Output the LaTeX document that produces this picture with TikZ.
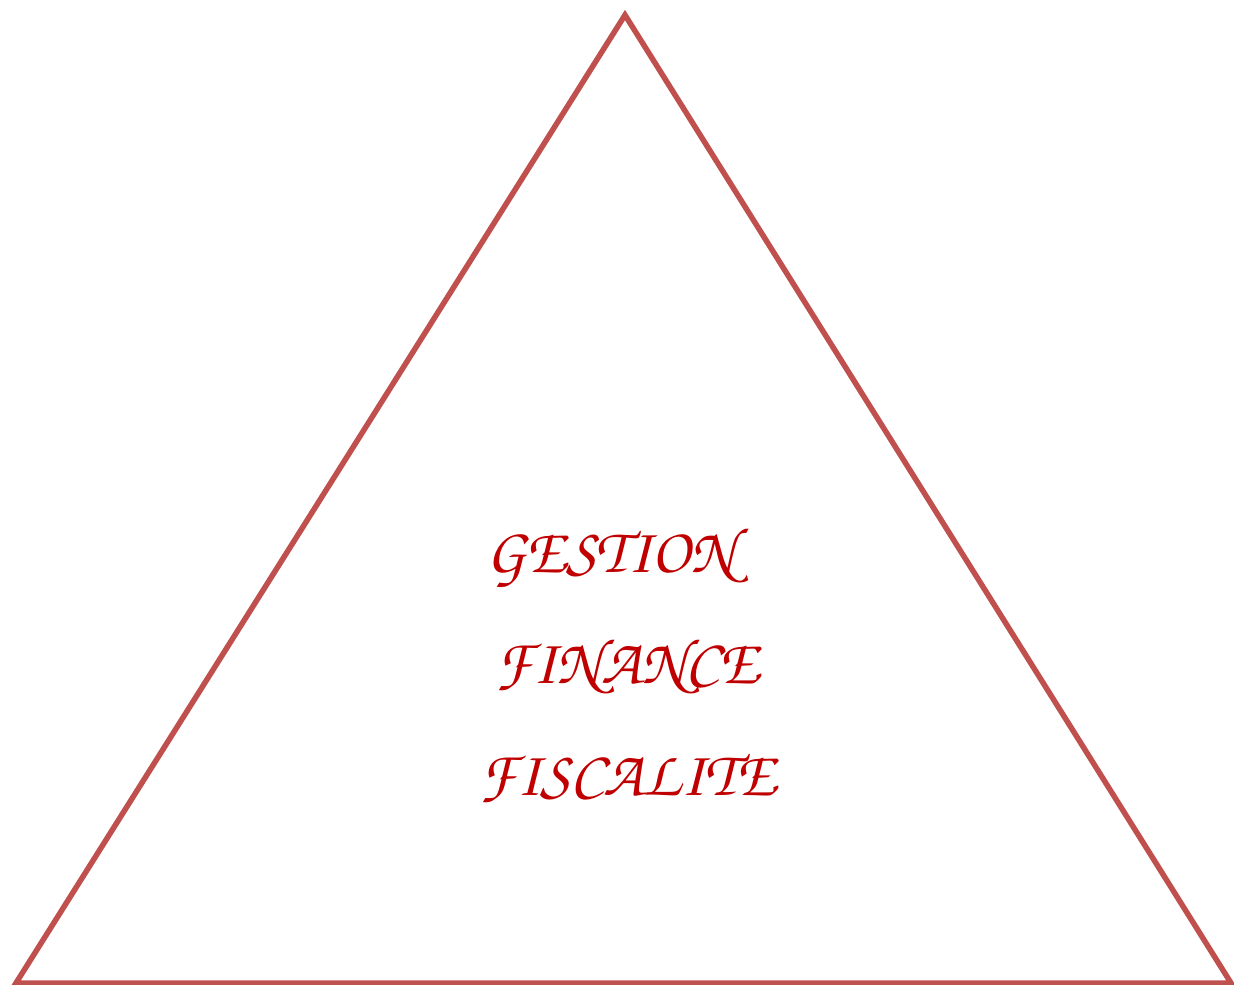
\documentclass[tikz,border=0pt]{standalone}
\usepackage[T1]{fontenc}
\definecolor{edge}{RGB}{192,80,77}
\definecolor{txt}{RGB}{192,0,0}
\begin{document}
\begin{tikzpicture}[x=1pt,y=-1pt,
  lbl/.style={text=txt,font=\fontsize{64}{70}\usefont{T1}{pzc}{mb}{it},anchor=base}]
\useasboundingbox (0,0) rectangle (1234,985);
\coordinate (top) at (625,15);
\coordinate (bl) at (16,983);
\coordinate (br) at (1231,983);
\draw[edge,line width=5.5pt,line join=miter] (top) -- (bl) -- (br) -- cycle;
\node[lbl] (g) at (611,572) {GESTION};
\node[lbl] (f) at (627,683) {FINANCE};
\node[lbl] (s) at (628,795) {FISCALITE};
\end{tikzpicture}
\end{document}
